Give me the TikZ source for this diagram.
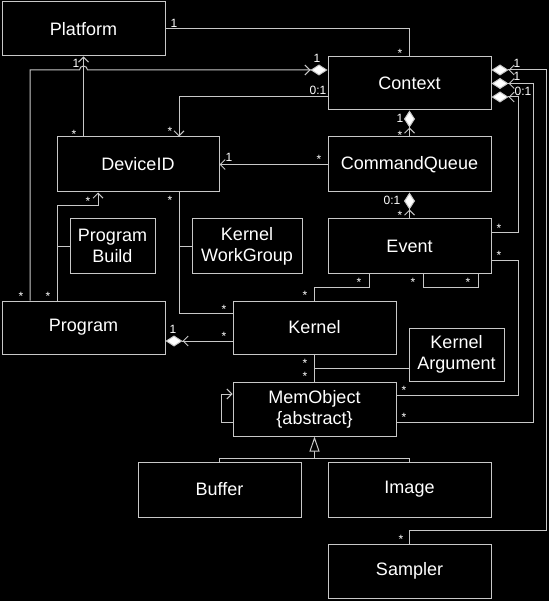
\documentclass[tikz,border=0pt]{standalone}
\usepackage{fontspec}
\setmainfont{Liberation Sans}
\usetikzlibrary{arrows.meta}
\definecolor{lc}{RGB}{200,200,200}
\begin{document}
\begin{tikzpicture}[x=1pt,y=-1pt,
  box/.style={draw=lc, line width=1pt, text=white, font=\fontsize{18}{21}\selectfont, align=center, minimum width=163pt, minimum height=54pt, inner sep=0pt},
  conn/.style={draw=lc, line width=1pt},
  nav/.style={conn, -{Straight Barb[length=5pt,width=10pt]}},
  compo/.style={conn, -{Straight Barb[length=5pt,width=10pt]Diamond[fill=white,length=17pt,width=11pt]}},
  gen/.style={conn, -{Triangle[open,fill=black,length=15pt,width=10pt]}},
  dig/.style={text=white, font=\fontsize{12}{14}\selectfont, inner sep=0pt, anchor=base, yshift=-4.3pt},
  star/.style={text=white, font=\fontsize{12}{14}\selectfont, inner sep=0pt, anchor=base, yshift=-6.8pt}]
\fill[black] (0,0) rectangle (549,601);
\useasboundingbox (0,0) rectangle (549,601);

% classes
\node[box] (platform) at (83.5,29) {Platform};
\node[box,minimum height=53pt] (context) at (409.5,83.5) {Context};
\node[box,minimum width=162pt,minimum height=55pt] (deviceid) at (138,164.5) {DeviceID};
\node[box,minimum height=55pt] (commandqueue) at (409.5,164.5) {CommandQueue};
\node[box,minimum width=85pt] (programbuild) at (112.5,246) {Program\\Build};
\node[box,minimum width=110pt] (kernelworkgroup) at (247,246) {Kernel\\WorkGroup};
\node[box] (event) at (409.5,246) {Event};
\node[box,minimum height=53pt] (program) at (83.5,327.5) {Program};
\node[box,minimum height=53pt] (kernel) at (314.5,327.5) {Kernel};
\node[box,minimum width=95pt,minimum height=53pt] (kernelargument) at (456.5,354.5) {Kernel\\Argument};
\node[box] (memobject) at (314.5,409) {MemObject\\\{abstract\}};
\node[box,minimum height=55pt] (buffer) at (219.5,489.5) {Buffer};
\node[box,minimum height=55pt] (image) at (409.5,489.5) {Image};
\node[box] (sampler) at (409.5,571) {Sampler};

% connectors
\draw[conn] (platform.east) -| (context.north);
\draw[nav] (deviceid.north -| platform.south) -- (platform.south);
\draw[compo] (program.north -| 30,0) -- (30,70) -- (79.5,70) arc[start angle=180,end angle=0,radius=4pt] -- (context.west |- 0,70);
\draw[nav] (program.north -| 57,0) |- (98,206) -- (deviceid.south -| 98,0);
\draw[conn] (programbuild.west -| 57,0) -- (programbuild.west);
\draw[nav] (context.west |- 0,97) -| (deviceid.north -| 179,0);
\draw[compo] (commandqueue.north) -- (context.south);
\draw[nav] (commandqueue.west) -- (deviceid.east);
\draw[compo] (event.north) -- (commandqueue.south);
\draw[conn] (deviceid.south -| 179,0) |- (kernel.west |- 0,313);
\draw[conn] (kernelworkgroup.west -| 179,0) -- (kernelworkgroup.west);
\draw[compo] (kernel.west |- 0,341) -- (program.east |- 0,341);
\draw[conn] (kernel.north) |- (369,287) -- (event.south -| 369,0);
\draw[conn] (event.south -| 423,0) |- (478,287) -- (event.south -| 478,0);
\draw[compo] (sampler.north) |- (546,530) |- (context.east |- 0,70);
\draw[compo] (memobject.east |- 0,422) -| (context.east -| 533,0) -- (context.east);
\draw[compo] (event.east |- 0,233) -| (518,97) -- (context.east |- 0,97);
\draw[conn] (event.east |- 0,260) -| (518,395) -- (memobject.east |- 0,395);
\draw[conn] (kernel.south) -- (memobject.north);
\draw[conn] (kernel.south |- 0,368) -- (kernelargument.west |- 0,368);
\draw[nav] (memobject.west |- 0,422) -| (221,394) -- (memobject.west |- 0,394);
\draw[conn] (buffer.north) |- (image.north |- 0,458) -- (image.north);
\draw[gen] (memobject.south |- 0,458) -- (memobject.south);

% multiplicities
\node[dig] (d1) at (174,23) {1};
\node[dig] (d2) at (76,63) {1};
\node[dig] (d3) at (317,58) {1};
\node[dig] (d4) at (318,90) {0:1};
\node[dig] (d5) at (517,63) {1};
\node[dig] (d6) at (517,76) {1};
\node[dig] (d7) at (523,91) {0:1};
\node[dig] (d8) at (400,118) {1};
\node[dig] (d9) at (229,157) {1};
\node[dig] (d10) at (392,200) {0:1};
\node[dig] (d11) at (173,329) {1};

\node[star] (s1) at (400,51) {*};
\node[star] (s2) at (74,132) {*};
\node[star] (s3) at (170,129) {*};
\node[star] (s4) at (400,133) {*};
\node[star] (s5) at (319,157) {*};
\node[star] (s6) at (88,199) {*};
\node[star] (s7) at (170,198) {*};
\node[star] (s8) at (400,213) {*};
\node[star] (s9) at (499,226) {*};
\node[star] (s10) at (499,253) {*};
\node[star] (s11) at (359,280) {*};
\node[star] (s12) at (413,280) {*};
\node[star] (s13) at (468,280) {*};
\node[star] (s14) at (305,293) {*};
\node[star] (s15) at (21,294) {*};
\node[star] (s16) at (48,294) {*};
\node[star] (s17) at (224,307) {*};
\node[star] (s18) at (224,334) {*};
\node[star] (s19) at (305,361) {*};
\node[star] (s20) at (305,374) {*};
\node[star] (s21) at (404,388) {*};
\node[star] (s22) at (404,415) {*};
\node[star] (s23) at (401,537) {*};
\end{tikzpicture}
\end{document}
